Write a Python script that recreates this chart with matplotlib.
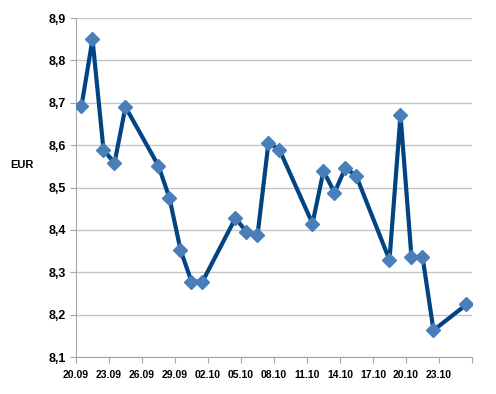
import pandas as pd
import matplotlib
matplotlib.use('Agg')
import matplotlib.pyplot as plt

plt.rcParams['font.family'] = ['Liberation Sans', 'DejaVu Sans']

dates = ['2011-09-20', '2011-09-21', '2011-09-22', '2011-09-23', '2011-09-24',
         '2011-09-27', '2011-09-28', '2011-09-29', '2011-09-30', '2011-10-01',
         '2011-10-04', '2011-10-05', '2011-10-06', '2011-10-07', '2011-10-08',
         '2011-10-11', '2011-10-12', '2011-10-13', '2011-10-14', '2011-10-15',
         '2011-10-18', '2011-10-19', '2011-10-20', '2011-10-21', '2011-10-22',
         '2011-10-25']
rates = [8.692, 8.850, 8.589, 8.558, 8.690,
         8.551, 8.475, 8.353, 8.278, 8.278,
         8.428, 8.395, 8.387, 8.606, 8.589,
         8.415, 8.539, 8.488, 8.547, 8.526,
         8.329, 8.671, 8.335, 8.337, 8.163,
         8.224]
y_ticks = [8.1, 8.2, 8.3, 8.4, 8.5, 8.6, 8.7, 8.8, 8.9]

# points sit in the middle of each day (Excel date axis style)
x = pd.to_datetime(dates) + pd.Timedelta(hours=12)

fig = plt.figure(figsize=(4.96, 3.94), dpi=100)
ax = fig.add_axes([0.1532, 0.0939, 0.7984, 0.8604])

ax.plot(x, rates, color='#004481', linewidth=3, marker='D', markersize=7.5,
        markerfacecolor='#4a7ebb', markeredgecolor='#4a7ebb', zorder=3)

ax.set_xlim(pd.Timestamp('2011-09-20'), pd.Timestamp('2011-10-26'))
ax.set_ylim(8.1, 8.9)
ax.set_yticks(y_ticks)
ax.set_yticklabels([f'{v:.1f}'.replace('.', ',') for v in y_ticks],
                   fontsize=9, fontweight='bold')

ticks = pd.date_range('2011-09-20', '2011-10-26', freq='3D')
ax.set_xticks(ticks)
ax.set_xticklabels([d.strftime('%d.%m') if d < ticks[-1] else '' for d in ticks],
                   fontsize=7.5, fontweight='bold')

ax.grid(axis='y', color='#c4c4c4', linewidth=1)
ax.set_axisbelow(True)
for s in ['top', 'right']:
    ax.spines[s].set_visible(False)
for s in ['left', 'bottom']:
    ax.spines[s].set_color('#a6a6a6')
ax.tick_params(axis='y', length=4, color='#a6a6a6', pad=3)
ax.tick_params(axis='x', length=4, color='#a6a6a6', pad=5)

fig.text(10 / 496, 1 - 165 / 394, 'EUR', fontsize=8, fontweight='bold',
         va='center', ha='left')

fig.savefig('out.png', dpi=100)
